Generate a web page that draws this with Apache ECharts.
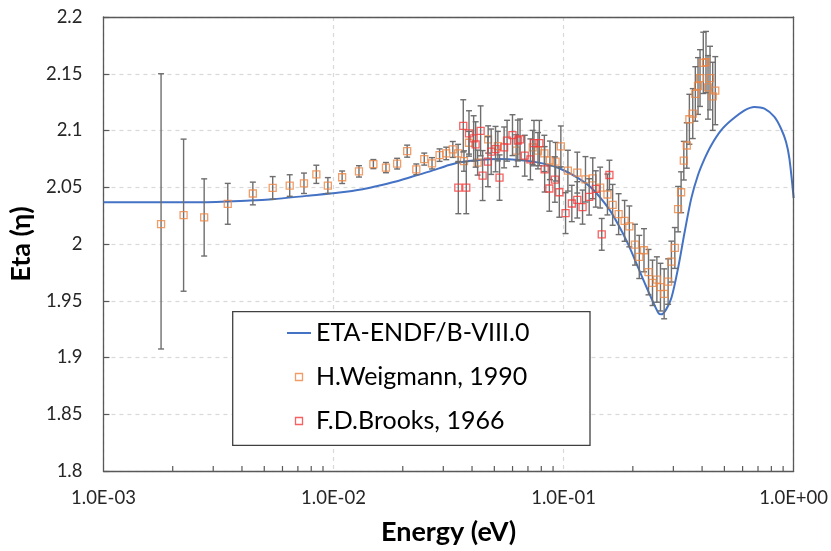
<!DOCTYPE html>
<html>
<head>
<meta charset="utf-8">
<script src="https://cdn.jsdelivr.net/npm/echarts@6/dist/echarts.min.js"></script>
<style>
html,body{margin:0;padding:0;background:#fff;}
#chart{width:831px;height:551px;}
</style>
</head>
<body>
<div id="chart"></div>
<script>
// ---- Data ----
const seriesNames = ['ETA-ENDF/B-VIII.0', 'H.Weigmann, 1990', 'F.D.Brooks, 1966'];

const endfE = [0.001, 0.00263, 0.00433, 0.00544, 0.00762, 0.01062, 0.01339, 0.01581, 0.01868, 0.02204,
  0.02604, 0.03178, 0.03512, 0.04285, 0.0523, 0.06386, 0.07794, 0.09515, 0.1161, 0.1326,
  0.1566, 0.1730, 0.1912, 0.2112, 0.2333, 0.2578, 0.2664, 0.2792, 0.2943, 0.3146,
  0.3363, 0.3592, 0.3840, 0.4106, 0.4385, 0.4844, 0.5354, 0.6117, 0.6761, 0.7468,
  0.8250, 0.8810, 0.9262, 0.9581, 1.0];
const endfEta = [2.0368, 2.0368, 2.0383, 2.0395, 2.0424, 2.0453, 2.0482, 2.0515, 2.0550, 2.0594,
  2.0638, 2.0696, 2.0719, 2.0740, 2.0748, 2.0740, 2.0717, 2.0670, 2.0579, 2.0491,
  2.0316, 2.0169, 1.9994, 1.9789, 1.9585, 1.9395, 1.9380, 1.9424, 1.9526, 1.9789,
  2.0111, 2.0404, 2.0608, 2.0754, 2.0871, 2.1003, 2.1090, 2.1178, 2.1208, 2.1193,
  2.1120, 2.1018, 2.0901, 2.0754, 2.0404];

const weigE = [0.00178, 0.00223, 0.00274, 0.00347, 0.00446, 0.00544, 0.00645, 0.00744, 0.00842, 0.00945,
  0.0109, 0.0129, 0.0149, 0.0169, 0.0189, 0.0209, 0.0229, 0.0248, 0.0268, 0.0289,
  0.0309, 0.0330, 0.0348, 0.0369, 0.0388, 0.0423, 0.0470, 0.0518, 0.0622, 0.0734,
  0.0774, 0.0825, 0.0872, 0.0923, 0.0973, 0.1044, 0.1147, 0.1245, 0.1339, 0.1442,
  0.1551, 0.1634, 0.1735, 0.1842, 0.1931, 0.2043, 0.2133, 0.2236, 0.2340, 0.2435,
  0.2544, 0.2637, 0.2736, 0.2847, 0.2942, 0.3044, 0.3146, 0.3242, 0.3331, 0.3432,
  0.3522, 0.3643, 0.3738, 0.3840, 0.3918, 0.4048, 0.4159, 0.4244, 0.4330, 0.4448, 0.4564];
const weigEta = [2.0175, 2.0254, 2.0234, 2.0354, 2.0445, 2.0494, 2.0515, 2.0535, 2.0614, 2.0515,
  2.0588, 2.0640, 2.0704, 2.0673, 2.0708, 2.0818, 2.0658, 2.0748, 2.0711, 2.0783,
  2.0798, 2.0833, 2.0798, 2.0731, 2.0892, 2.0717, 2.0921, 2.0862, 2.0822, 2.0851,
  2.0822, 2.0798, 2.0737, 2.0725, 2.0860, 2.0646, 2.0629, 2.0570, 2.0579, 2.0497,
  2.0436, 2.0345, 2.0263, 2.0204, 2.0155, 1.9994, 1.9886, 1.9945, 1.9752, 1.9658,
  1.9687, 1.9620, 1.9561, 1.9669, 1.9845, 1.9965, 2.0307, 2.0456, 2.0734, 2.0868,
  2.1099, 2.1149, 2.1322, 2.1392, 2.1462, 2.1596, 2.1603, 2.1380, 2.1462, 2.1301, 2.1351];
const weigErrUp = [0.1325, 0.067, 0.034, 0.018, 0.010, 0.010, 0.0095, 0.009, 0.008, 0.007,
  0.0055, 0.005, 0.004, 0.0045, 0.0047, 0.0053, 0.0047, 0.0053, 0.005, 0.0055,
  0.0055, 0.007, 0.008, 0.009, 0.010, 0.011, 0.012, 0.013, 0.014, 0.015,
  0.016, 0.016, 0.017, 0.017, 0.018, 0.018, 0.018, 0.020, 0.018, 0.018,
  0.018, 0.018, 0.018, 0.018, 0.018, 0.018, 0.019, 0.019, 0.020, 0.020,
  0.020, 0.021, 0.022, 0.020, 0.018, 0.018, 0.020, 0.018, 0.017, 0.020,
  0.022, 0.022, 0.024, 0.025, 0.025, 0.027, 0.027, 0.028, 0.028, 0.030, 0.030];
const weigErrDown = [0.110, 0.067, 0.034, 0.018, 0.010, 0.010, 0.0095, 0.009, 0.008, 0.007,
  0.0055, 0.005, 0.004, 0.0045, 0.0047, 0.0053, 0.0047, 0.0053, 0.005, 0.0055,
  0.0055, 0.007, 0.008, 0.009, 0.010, 0.011, 0.012, 0.013, 0.014, 0.015,
  0.016, 0.016, 0.017, 0.017, 0.018, 0.018, 0.018, 0.020, 0.018, 0.018,
  0.018, 0.018, 0.018, 0.018, 0.018, 0.018, 0.019, 0.019, 0.020, 0.020,
  0.020, 0.021, 0.022, 0.020, 0.018, 0.018, 0.020, 0.018, 0.017, 0.020,
  0.022, 0.022, 0.024, 0.025, 0.025, 0.027, 0.027, 0.028, 0.028, 0.030, 0.030];

const brooksE = [0.03487, 0.03664, 0.03776, 0.03880, 0.04065, 0.04147, 0.04359, 0.04447, 0.04688, 0.04845,
  0.05061, 0.05267, 0.05515, 0.05681, 0.05996, 0.06322, 0.06468, 0.06780, 0.07175, 0.07437,
  0.07848, 0.08274, 0.08672, 0.09169, 0.09581, 0.1020, 0.1086, 0.1147, 0.1209, 0.1292,
  0.1380, 0.1465, 0.1582];
const brooksEta = [2.0497, 2.1041, 2.0497, 2.0974, 2.0930, 2.0877, 2.0997, 2.0603, 2.0725, 2.0813,
  2.0836, 2.0585, 2.0851, 2.0910, 2.0959, 2.0912, 2.0921, 2.0778, 2.0746, 2.0889,
  2.0889, 2.0658, 2.0489, 2.0568, 2.0456, 2.0272, 2.0357, 2.0389, 2.0325, 2.0415,
  2.0485, 2.0085, 2.0608];
const brooksErr = [0.023, 0.023, 0.023, 0.020, 0.020, 0.020, 0.022, 0.022, 0.022, 0.020,
  0.020, 0.020, 0.018, 0.018, 0.018, 0.018, 0.018, 0.018, 0.018, 0.020,
  0.020, 0.020, 0.020, 0.020, 0.022, 0.018, 0.016, 0.016, 0.015, 0.016,
  0.016, 0.014, 0.013];

// axis settings
const xMin = 0.001, xMax = 1;
const yMin = 1.8, yMax = 2.2, yStep = 0.05;
const xMinorTicks = [0.002,0.003,0.004,0.005,0.006,0.007,0.008,0.009,
  0.02,0.03,0.04,0.05,0.06,0.07,0.08,0.09,
  0.2,0.3,0.4,0.5,0.6,0.7,0.8,0.9];

// ---- Styles ----
const FONT = 'Lato, "Noto Sans", sans-serif';
const C_BLUE = '#4472C4', C_ORANGE = '#EE8442', C_RED = '#F53A3A', C_ERR = '#6E6E6E', C_FRAME = '#595959';

function errRender(params, api) {
  const x = api.value(0), lo = api.value(1), hi = api.value(2);
  const p1 = api.coord([x, hi]), p2 = api.coord([x, lo]);
  const cap = 3, st = {stroke: C_ERR, lineWidth: 1.4};
  return {type: 'group', children: [
    {type: 'line', shape: {x1: p1[0], y1: p1[1], x2: p2[0], y2: p2[1]}, style: st},
    {type: 'line', shape: {x1: p1[0]-cap, y1: p1[1], x2: p1[0]+cap, y2: p1[1]}, style: st},
    {type: 'line', shape: {x1: p2[0]-cap, y1: p2[1], x2: p2[0]+cap, y2: p2[1]}, style: st}
  ]};
}
function tickRender(params, api) {
  const p = api.coord([api.value(0), yMin]);
  return {type: 'line', shape: {x1: p[0], y1: p[1], x2: p[0], y2: p[1]-5},
    style: {stroke: C_FRAME, lineWidth: 1.2}};
}
function fmtX(v) {
  const e = Math.round(Math.log10(v));
  return '1.0E' + (e < 0 ? '-' : '+') + String(Math.abs(e)).padStart(2, '0');
}

const frameAxisLine = {show: true, lineStyle: {color: C_FRAME, width: 1.3}};
const gridDash = {show: true, lineStyle: {color: '#D9D9D9', type: [4, 4], width: 1.2}};

const chart = echarts.init(document.getElementById('chart'), null, {renderer: 'canvas'});
const option = {
  animation: false,
  backgroundColor: '#fff',
  textStyle: {fontFamily: FONT},
  grid: {left: 102, right: 36, top: 17, bottom: 76, show: false},
  xAxis: [{
    type: 'log', logBase: 10, min: xMin, max: xMax,
    name: 'Energy (eV)', nameLocation: 'middle', nameGap: 48,
    nameTextStyle: {fontSize: 27, fontWeight: 'bold', color: '#000', fontFamily: FONT},
    axisLine: frameAxisLine,
    axisTick: {show: false},
    minorTick: {show: false},
    axisLabel: {formatter: fmtX, fontSize: 18.5, color: '#262626', margin: 18, fontFamily: FONT},
    splitLine: gridDash
  }, {
    type: 'log', logBase: 10, min: xMin, max: xMax, position: 'top', z: 5,
    axisLine: frameAxisLine, axisTick: {show: false}, axisLabel: {show: false}, splitLine: {show: false}
  }],
  yAxis: [{
    type: 'value', min: yMin, max: yMax, interval: yStep,
    name: 'Eta (η)', nameLocation: 'middle', nameGap: 67, nameRotate: 90,
    nameTextStyle: {fontSize: 27, fontWeight: 'bold', color: '#000', fontFamily: FONT},
    axisLine: frameAxisLine,
    axisTick: {show: true, inside: true, length: 6, lineStyle: {color: C_FRAME, width: 1.2}},
    axisLabel: {formatter: v => String(parseFloat(v.toFixed(2))), fontSize: 18.5, color: '#262626', margin: 21, fontFamily: FONT},
    splitLine: gridDash
  }, {
    type: 'value', min: yMin, max: yMax, interval: yStep, position: 'right', z: 5,
    axisLine: frameAxisLine, axisTick: {show: false}, axisLabel: {show: false}, splitLine: {show: false}
  }],
  legend: {
    orient: 'vertical', left: 287, top: 318, padding: 0, itemGap: 14,
    itemWidth: 24, itemHeight: 7, z: 10, selectedMode: false,
    textStyle: {fontSize: 25, lineHeight: 30, color: '#000', fontFamily: FONT},
    data: [
      {name: seriesNames[0], icon: 'path://M0,0H24V2H0Z', itemStyle: {color: C_BLUE, borderWidth: 0}},
      {name: seriesNames[1], icon: 'path://M0,0H10V10H0Z', itemStyle: {color: 'rgba(255,255,255,0)', borderColor: C_ORANGE, borderWidth: 1.3}},
      {name: seriesNames[2], icon: 'path://M0,0H10V10H0Z', itemStyle: {color: 'rgba(255,255,255,0)', borderColor: C_RED, borderWidth: 1.3}}
    ]
  },
  graphic: [{
    type: 'rect', z: 5,
    shape: {x: 232.7, y: 311.7, width: 357.3, height: 133.6},
    style: {fill: '#fff', stroke: '#404040', lineWidth: 1.3}
  }],
  series: [
    {
      name: 'minorTicks', type: 'custom', renderItem: tickRender, z: 3, silent: true,
      data: xMinorTicks.map(v => [v, yMin]), encode: {x: 0, y: 1}
    },
    {
      name: seriesNames[0], type: 'line', smooth: 0.3, symbol: 'none', z: 2,
      lineStyle: {color: C_BLUE, width: 2}, itemStyle: {color: C_BLUE},
      data: endfE.map((e, i) => [e, endfEta[i]])
    },
    {
      name: 'weigErr', type: 'custom', renderItem: errRender, z: 3, silent: true,
      data: weigE.map((e, i) => [e, weigEta[i] - weigErrDown[i], weigEta[i] + weigErrUp[i]]),
      encode: {x: 0, y: [1, 2]}
    },
    {
      name: seriesNames[1], type: 'scatter', symbol: 'rect', symbolSize: 7, z: 4,
      itemStyle: {color: 'rgba(255,255,255,0)', borderColor: C_ORANGE, borderWidth: 1.3},
      data: weigE.map((e, i) => [e, weigEta[i]])
    },
    {
      name: 'brooksErr', type: 'custom', renderItem: errRender, z: 5, silent: true,
      data: brooksE.map((e, i) => [e, brooksEta[i] - brooksErr[i], brooksEta[i] + brooksErr[i]]),
      encode: {x: 0, y: [1, 2]}
    },
    {
      name: seriesNames[2], type: 'scatter', symbol: 'rect', symbolSize: 7, z: 6,
      itemStyle: {color: 'rgba(255,255,255,0)', borderColor: C_RED, borderWidth: 1.3},
      data: brooksE.map((e, i) => [e, brooksEta[i]])
    }
  ]
};
chart.setOption(option);
</script>
</body>
</html>
